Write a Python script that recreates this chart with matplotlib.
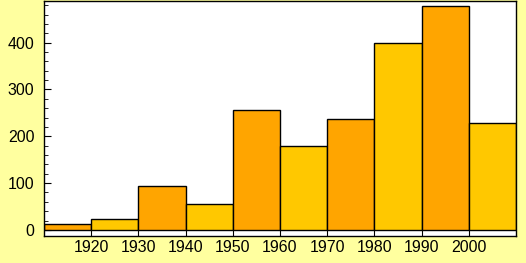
import matplotlib.pyplot as plt
from matplotlib.ticker import MultipleLocator

# decade bins and counts
bin_starts = [1910, 1920, 1930, 1940, 1950, 1960, 1970, 1980, 1990, 2000]
counts = [12, 23, 93, 55, 257, 179, 238, 399, 478, 228]
x_ticks = [1920, 1930, 1940, 1950, 1960, 1970, 1980, 1990, 2000]
y_ticks = [0, 100, 200, 300, 400]

plt.rcParams["font.family"] = ["Liberation Sans", "DejaVu Sans"]

fig = plt.figure(figsize=(5.26, 2.63), dpi=100, facecolor="#ffff9f")
ax = fig.add_axes([44 / 526, 1 - 236 / 263, 472 / 526, 235 / 263])

colors = ["#ffa500" if i % 2 == 0 else "#ffc800" for i in range(len(counts))]
ax.bar(bin_starts, counts, width=10, align="edge", color=colors,
       edgecolor="black", linewidth=1.0)

ax.set_xlim(1910, 2010)
ax.set_ylim(-13, 489)
ax.set_xticks(x_ticks)
ax.set_yticks(y_ticks)
ax.yaxis.set_minor_locator(MultipleLocator(20))

for side in ["top", "right", "bottom", "left"]:
    ax.spines[side].set_linewidth(1.0)

ax.tick_params(axis="both", which="both", direction="in", labelsize=11.5,
               colors="black", top=False, right=False)
ax.tick_params(axis="y", which="major", length=5, pad=7)
ax.tick_params(axis="y", which="minor", length=3)
ax.tick_params(axis="x", which="major", length=4, pad=3)

fig.savefig("out.png", dpi=100, facecolor=fig.get_facecolor())
